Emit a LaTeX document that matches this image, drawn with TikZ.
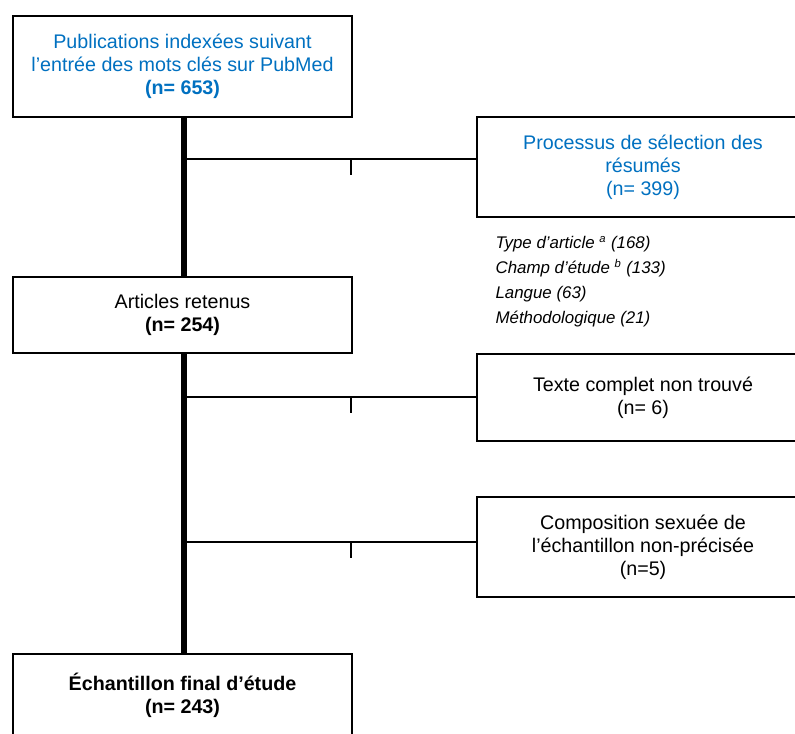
\documentclass[tikz,border=0pt]{standalone}
\usepackage{fontspec}
\setmainfont{Liberation Sans}
\usepackage{xcolor}
\usepackage{tikz}
\usetikzlibrary{positioning}

\definecolor{pubblue}{RGB}{0,112,192}

\begin{document}
\begin{tikzpicture}[x=0.025cm, y=-0.025cm, thick,
    box/.style={draw, rectangle, line width=1.4pt, inner sep=0pt, align=center, font=\fontsize{14}{16.5}\selectfont},
    mainbox/.style={box, minimum width=8.475cm},
    sidebox/.style={box, minimum width=8.3cm},
    spine/.style={line width=4.3pt},
    branch/.style={line width=1pt}]

        \clip (0,0) rectangle (795,733);

        % Main column
        \node[mainbox, minimum height=2.525cm, text=pubblue] (pub) at (182.5,66.5) {Publications indexées suivant\\l’entrée des mots clés sur PubMed\\\textbf{(n= 653)}};
        \node[mainbox, minimum height=1.9cm] (ret) at (182.5,315) {Articles retenus\\\textbf{(n= 254)}};
        \node[mainbox, minimum height=2.05cm] (fin) at (182.5,695) {\textbf{Échantillon final d’étude}\\\textbf{(n= 243)}};

        % Side boxes
        \node[sidebox, minimum height=2.5cm, text=pubblue] (proc) at (643,167) {Processus de sélection des\\résumés\\(n= 399)};
        \node[sidebox, minimum height=2.175cm] (texte) at (643,397.5) {Texte complet non trouvé\\(n= 6)};
        \node[sidebox, minimum height=2.5cm] (compo) at (643,547) {Composition sexuée de\\l’échantillon non-précisée\\(n=5)};

        % Exclusion reasons
        \node[anchor=north west, inner sep=0pt, align=left, font=\fontsize{12}{17.8}\selectfont\itshape] (motifs) at (495,236)
            {Type d’article \textsuperscript{a} (168)\\Champ d’étude \textsuperscript{b} (133)\\Langue (63)\\Méthodologique (21)};

        % Thick vertical flow
        \draw[spine] ([xshift=1.5*0.025cm]pub.south) -- ([xshift=1.5*0.025cm]ret.north);
        \draw[spine] ([xshift=1.5*0.025cm]ret.south) -- ([xshift=1.5*0.025cm]fin.north);

        % Branches to the side boxes
        \coordinate (b1) at (186,159);
        \coordinate (b2) at (186,397);
        \coordinate (b3) at (186,542);
        \draw[branch] (b1) -- (b1 -| proc.west);
        \draw[branch] (b2) -- (b2 -| texte.west);
        \draw[branch] (b3) -- (b3 -| compo.west);

        % Small ticks
        \coordinate (t1) at (351,159);
        \coordinate (t2) at (351,397);
        \coordinate (t3) at (351,542);
        \draw[branch] (t1) -- ++(0,16);
        \draw[branch] (t2) -- ++(0,16);
        \draw[branch] (t3) -- ++(0,16);
    \end{tikzpicture}
\end{document}
